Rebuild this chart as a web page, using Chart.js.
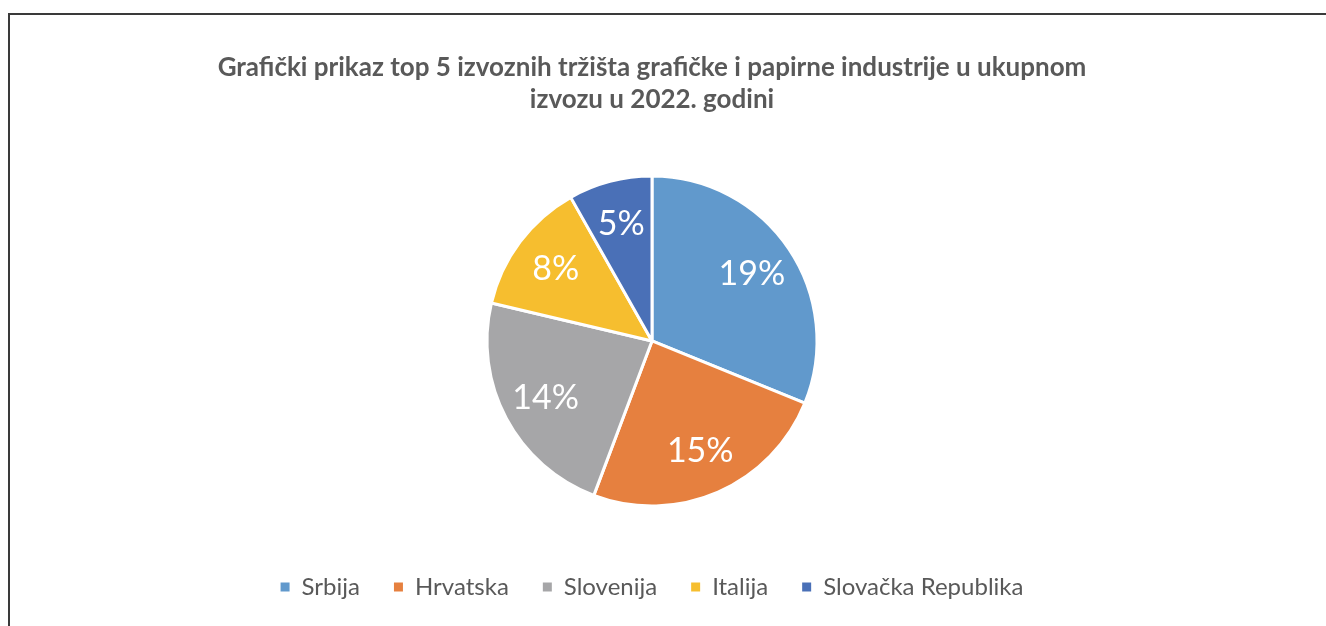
<!DOCTYPE html>
<html>
<head>
<meta charset="utf-8">
<script src="https://cdn.jsdelivr.net/npm/chart.js@4.4.1/dist/chart.umd.min.js"></script>
<style>
  html, body { margin: 0; padding: 0; background: #ffffff; overflow: hidden; }
  #frame { position: absolute; left: 8px; top: 13px; width: 1400px; height: 700px;
           border-left: 2px solid #3a3a3a; border-top: 2px solid #3a3a3a; box-sizing: border-box; }
  #wrap { position: absolute; left: 0; top: 0; width: 1326px; height: 626px; }
</style>
</head>
<body>
<div id="frame"></div>
<div id="wrap"><canvas id="c" width="1326" height="626"></canvas></div>
<script>
const titleLines = ["Grafički prikaz top 5 izvoznih tržišta grafičke i papirne industrije u ukupnom", "izvozu u 2022. godini"];
const categories = ["Srbija", "Hrvatska", "Slovenija", "Italija", "Slovačka Republika"];
const values = [19, 15, 14, 8, 5];
const colors = ["#6199CC", "#E6803F", "#A6A6A8", "#F6BE2F", "#4A70B7"];

const FONT = "Lato, 'Open Sans', 'DejaVu Sans', sans-serif";

const labelPlugin = {
  id: 'sliceLabels',
  afterDatasetsDraw(chart) {
    const ctx = chart.ctx;
    const meta = chart.getDatasetMeta(0);
    const data = chart.data.datasets[0].data;
    ctx.save();
    ctx.fillStyle = '#ffffff';
    ctx.font = '34px ' + FONT;
    ctx.textAlign = 'center';
    ctx.textBaseline = 'middle';
    meta.data.forEach((arc, i) => {
      const p = arc.getProps(['x', 'y', 'startAngle', 'endAngle', 'outerRadius'], true);
      const mid = (p.startAngle + p.endAngle) / 2;
      const r = p.outerRadius * 0.73;
      ctx.fillText(data[i] + '%', p.x + Math.cos(mid) * r, p.y + Math.sin(mid) * r);
    });
    ctx.restore();
  }
};

new Chart(document.getElementById('c'), {
  type: 'pie',
  data: {
    labels: categories,
    datasets: [{
      data: values,
      backgroundColor: colors,
      borderColor: '#ffffff',
      borderWidth: 3,
      hoverOffset: 0,
      radius: 165
    }]
  },
  options: {
    responsive: false,
    animation: false,
    events: [],
    layout: { padding: { top: 0, bottom: 17, left: 0, right: 22 } },
    plugins: {
      tooltip: { enabled: false },
      title: {
        display: true,
        text: titleLines,
        color: '#595959',
        font: { family: FONT, size: 26, weight: 'bold', lineHeight: 1.23 },
        padding: { top: 52, bottom: 25 }
      },
      legend: {
        position: 'bottom',
        labels: {
          color: '#595959',
          font: { family: FONT, size: 24 },
          boxWidth: 9,
          boxHeight: 9,
          padding: 34,
          generateLabels(chart) {
            return chart.data.labels.map((l, i) => ({
              text: l,
              fillStyle: colors[i],
              strokeStyle: colors[i],
              lineWidth: 0,
              fontColor: '#595959',
              index: i,
              hidden: false
            }));
          }
        }
      }
    }
  },
  plugins: [labelPlugin]
});
</script>
</body>
</html>
